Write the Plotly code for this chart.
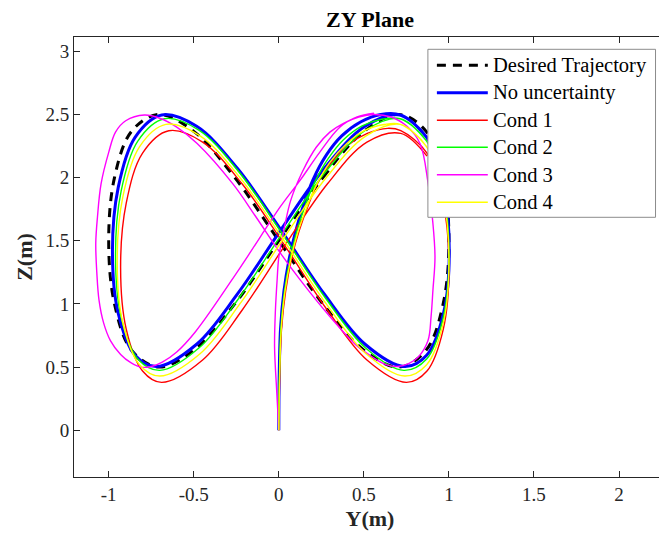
import plotly.graph_objects as go

# ---- data ----
desired_y = [0, 0.259, 0.5, 0.707, 0.866, 0.966, 1, 0.966, 0.866, 0.707, 0.5, 0.259, 0,
             -0.259, -0.5, -0.707, -0.866, -0.966, -1, -0.966, -0.866, -0.707, -0.5, -0.259, 0]
desired_z = [1.5, 2.0, 2.366, 2.5, 2.366, 2.0, 1.5, 1.0, 0.634, 0.5, 0.634, 1.0, 1.5,
             2.0, 2.366, 2.5, 2.366, 2.0, 1.5, 1.0, 0.634, 0.5, 0.634, 1.0, 1.5]

nounc_y = [0, 0.002, 0.01, 0.03, 0.06, 0.1, 0.14, 0.2, 0.28, 0.37, 0.48, 0.6,
           0.712, 0.869, 0.968, 1.002, 0.968, 0.869, 0.74, 0.507, 0.268, 0.012,
           -0.244, -0.483, -0.688, -0.845, -0.944, -0.978, -0.944, -0.845, -0.72, -0.483,
           -0.244, 0.012, 0.268, 0.507, 0.712, 0.869]
nounc_z = [0, 0.4, 0.8, 1.1, 1.35, 1.58, 1.76, 1.98, 2.18, 2.33, 2.44, 2.5,
           2.496, 2.319, 1.923, 1.413, 0.926, 0.594, 0.504, 0.681, 1.077, 1.587,
           2.074, 2.406, 2.496, 2.319, 1.923, 1.413, 0.926, 0.594, 0.504, 0.681,
           1.077, 1.587, 2.074, 2.406, 2.496, 2.319]

cond1_y = [0, 0.005, 0.016, 0.04, 0.077, 0.12, 0.17, 0.23, 0.31, 0.41, 0.52, 0.64,
           0.717, 0.871, 0.967, 1.0, 0.967, 0.871, 0.75, 0.518, 0.285, 0.035,
           -0.215, -0.448, -0.647, -0.801, -0.897, -0.93, -0.897, -0.801, -0.69, -0.448,
           -0.215, 0.035, 0.285, 0.518, 0.717, 0.871]
cond1_z = [0, 0.4, 0.8, 1.1, 1.37, 1.58, 1.77, 1.96, 2.12, 2.26, 2.35, 2.39,
           2.371, 2.194, 1.798, 1.288, 0.801, 0.469, 0.379, 0.556, 0.952, 1.462,
           1.949, 2.281, 2.371, 2.194, 1.798, 1.288, 0.801, 0.469, 0.379, 0.556,
           0.952, 1.462, 1.949, 2.281, 2.35, 2.17]

cond2_y = [0, 0.003, 0.012, 0.033, 0.065, 0.105, 0.15, 0.21, 0.29, 0.38, 0.49, 0.6,
           0.713, 0.869, 0.967, 1.0, 0.967, 0.869, 0.735, 0.51, 0.274, 0.02,
           -0.234, -0.47, -0.673, -0.829, -0.927, -0.96, -0.927, -0.829, -0.70, -0.47,
           -0.234, 0.02, 0.274, 0.51, 0.713, 0.869]
cond2_z = [0, 0.4, 0.8, 1.1, 1.35, 1.57, 1.76, 1.96, 2.15, 2.3, 2.41, 2.46,
           2.466, 2.289, 1.893, 1.383, 0.896, 0.564, 0.474, 0.651, 1.047, 1.557,
           2.044, 2.376, 2.466, 2.289, 1.893, 1.383, 0.896, 0.564, 0.474, 0.651,
           1.047, 1.557, 2.044, 2.376, 2.466, 2.289]

cond3_y = [0, -0.012, -0.025, -0.02, -0.01, 0.0, 0.035, 0.07, 0.14, 0.22,
           0.3, 0.38, 0.47, 0.555, 0.66, 0.75, 0.83, 0.877, 0.905, 0.918,
           0.906, 0.895, 0.877, 0.82, 0.76, 0.70, 0.63, 0.55, 0.45, 0.3,
           0.12, 0.0, -0.14, -0.27, -0.48, -0.6, -0.7, -0.79, -0.9, -0.96,
           -1.0, -1.045, -1.066, -1.076, -1.07, -1.057, -1.03, -0.99, -0.93, -0.87,
           -0.81, -0.75, -0.685, -0.6, -0.49, -0.226, 0.009, 0.126, 0.24, 0.36,
           0.46, 0.56]
cond3_z = [0, 0.3, 0.66, 0.95, 1.19, 1.37, 1.62, 1.82, 2.05, 2.24,
           2.36, 2.43, 2.48, 2.50, 2.48, 2.41, 2.27, 1.96, 1.65, 1.37,
           1.11, 0.9, 0.71, 0.58, 0.525, 0.505, 0.52, 0.58, 0.68, 0.9,
           1.2, 1.42, 1.7, 1.95, 2.27, 2.4, 2.47, 2.495, 2.45, 2.36,
           2.2, 1.95, 1.69, 1.48, 1.25, 1.03, 0.85, 0.71, 0.6, 0.535,
           0.50, 0.505, 0.54, 0.62, 0.78, 1.29, 1.77, 1.98, 2.2, 2.4,
           2.48, 2.51]

cond4_y = [0, 0.004, 0.014, 0.036, 0.07, 0.11, 0.16, 0.22, 0.3, 0.4, 0.5, 0.62,
           0.714, 0.869, 0.967, 1.0, 0.967, 0.869, 0.74, 0.513, 0.278, 0.025,
           -0.228, -0.463, -0.664, -0.819, -0.917, -0.95, -0.917, -0.819, -0.70, -0.463,
           -0.228, 0.025, 0.278, 0.513, 0.714, 0.869]
cond4_z = [0, 0.4, 0.8, 1.1, 1.35, 1.56, 1.75, 1.94, 2.12, 2.27, 2.37, 2.42,
           2.421, 2.244, 1.848, 1.338, 0.851, 0.519, 0.429, 0.606, 1.002, 1.512,
           1.999, 2.331, 2.421, 2.244, 1.848, 1.338, 0.851, 0.519, 0.429, 0.606,
           1.002, 1.512, 1.999, 2.331, 2.421, 2.244]

x_ticks = [-1, -0.5, 0, 0.5, 1, 1.5, 2]
x_tick_labels = ["-1", "-0.5", "0", "0.5", "1", "1.5", "2"]
y_ticks = [0, 0.5, 1, 1.5, 2, 2.5, 3]
y_tick_labels = ["0", "0.5", "1", "1.5", "2", "2.5", "3"]

FONT = "Liberation Serif, Times New Roman, serif"
AX = "#262626"
DASH = "9px,7px"

series = [
    ("Desired Trajectory", desired_y, desired_z, "#000000", 3, DASH),
    ("No uncertainty", nounc_y, nounc_z, "#0000ff", 3, "solid"),
    ("Cond 1", cond1_y, cond1_z, "#ff0000", 1.4, "solid"),
    ("Cond 2", cond2_y, cond2_z, "#00ff00", 1.4, "solid"),
    ("Cond 3", cond3_y, cond3_z, "#ff00ff", 1.4, "solid"),
    ("Cond 4", cond4_y, cond4_z, "#ffff00", 1.4, "solid"),
]

fig = go.Figure()
for name, ys, zs, col, w, dash in series:
    fig.add_trace(go.Scatter(
        x=ys, y=zs, mode="lines", name=name, showlegend=False,
        line=dict(color=col, width=w, dash=dash, shape="spline", smoothing=1.0),
    ))

# The page body has an 8px default margin, so the figure is drawn 8px smaller
# and every page-pixel position below is shifted by OFF.
OFF = 8
FIG_W, FIG_H = 667 - OFF, 535 - OFF
L_W, L_T = 73.5 - OFF, 36.7 - OFF       # plot-area left / top inside the figure
P_W, P_H = 666.5 - 73.5, 476.7 - 36.7   # plot-area size

def px(xp):   # page pixel x -> paper coordinate
    return (xp - OFF - L_W) / P_W
def py(yp):   # page pixel y -> paper coordinate
    return 1 - (yp - OFF - L_T) / P_H

# ---- MATLAB-style legend box built from layout shapes + annotations ----
shapes = [dict(type="rect", xref="paper", yref="paper",
               x0=px(428), x1=px(656), y0=py(217), y1=py(49),
               fillcolor="white", line=dict(color="#8c8c8c", width=1), layer="above")]
annotations = []
row_y = [65, 92.5, 120, 147, 174.5, 202]
for (name, ys, zs, col, w, dash), ry in zip(series, row_y):
    shapes.append(dict(type="line", xref="paper", yref="paper",
                       x0=px(437), x1=px(488), y0=py(ry), y1=py(ry),
                       line=dict(color=col, width=w, dash=dash),
                       layer="above"))
    annotations.append(dict(text=name, xref="paper", yref="paper", x=px(491), y=py(ry),
                            xanchor="left", yanchor="middle", showarrow=False,
                            font=dict(family=FONT, size=20.5, color="#000000")))

fig.update_layout(
    width=FIG_W, height=FIG_H,
    margin=dict(l=L_W, r=FIG_W - L_W - P_W, t=L_T, b=FIG_H - L_T - P_H, pad=0),
    paper_bgcolor="white", plot_bgcolor="white",
    font=dict(family=FONT, size=19, color=AX),
    title=dict(text="<b>ZY Plane</b>", x=(L_W + P_W / 2) / FIG_W, xref="container",
               xanchor="center", y=1 - (19 - OFF) / FIG_H, yref="container", yanchor="middle",
               font=dict(family=FONT, size=22, color="#000000")),
    showlegend=False,
    shapes=shapes,
    annotations=annotations,
)
fig.update_xaxes(
    range=[-1.204, 2.276], tickvals=x_ticks, ticktext=x_tick_labels,
    ticks="inside", ticklen=6, tickcolor=AX, showline=True, linecolor=AX, linewidth=1,
    mirror="ticks", showgrid=False, zeroline=False, automargin=False,
    tickfont=dict(family=FONT, size=19, color=AX),
    title=dict(text="<b>Y(m)</b>", standoff=6, font=dict(family=FONT, size=22, color=AX)),
)
fig.update_yaxes(
    range=[-0.37, 3.113], tickvals=y_ticks, ticktext=y_tick_labels,
    ticks="inside", ticklen=6, tickcolor=AX, showline=True, linecolor=AX, linewidth=1,
    mirror="ticks", showgrid=False, zeroline=False, automargin=False,
    tickfont=dict(family=FONT, size=19, color=AX),
    title=dict(text="<b>Z(m)</b>", standoff=6, font=dict(family=FONT, size=22, color=AX)),
)

fig.write_html("out.html")
